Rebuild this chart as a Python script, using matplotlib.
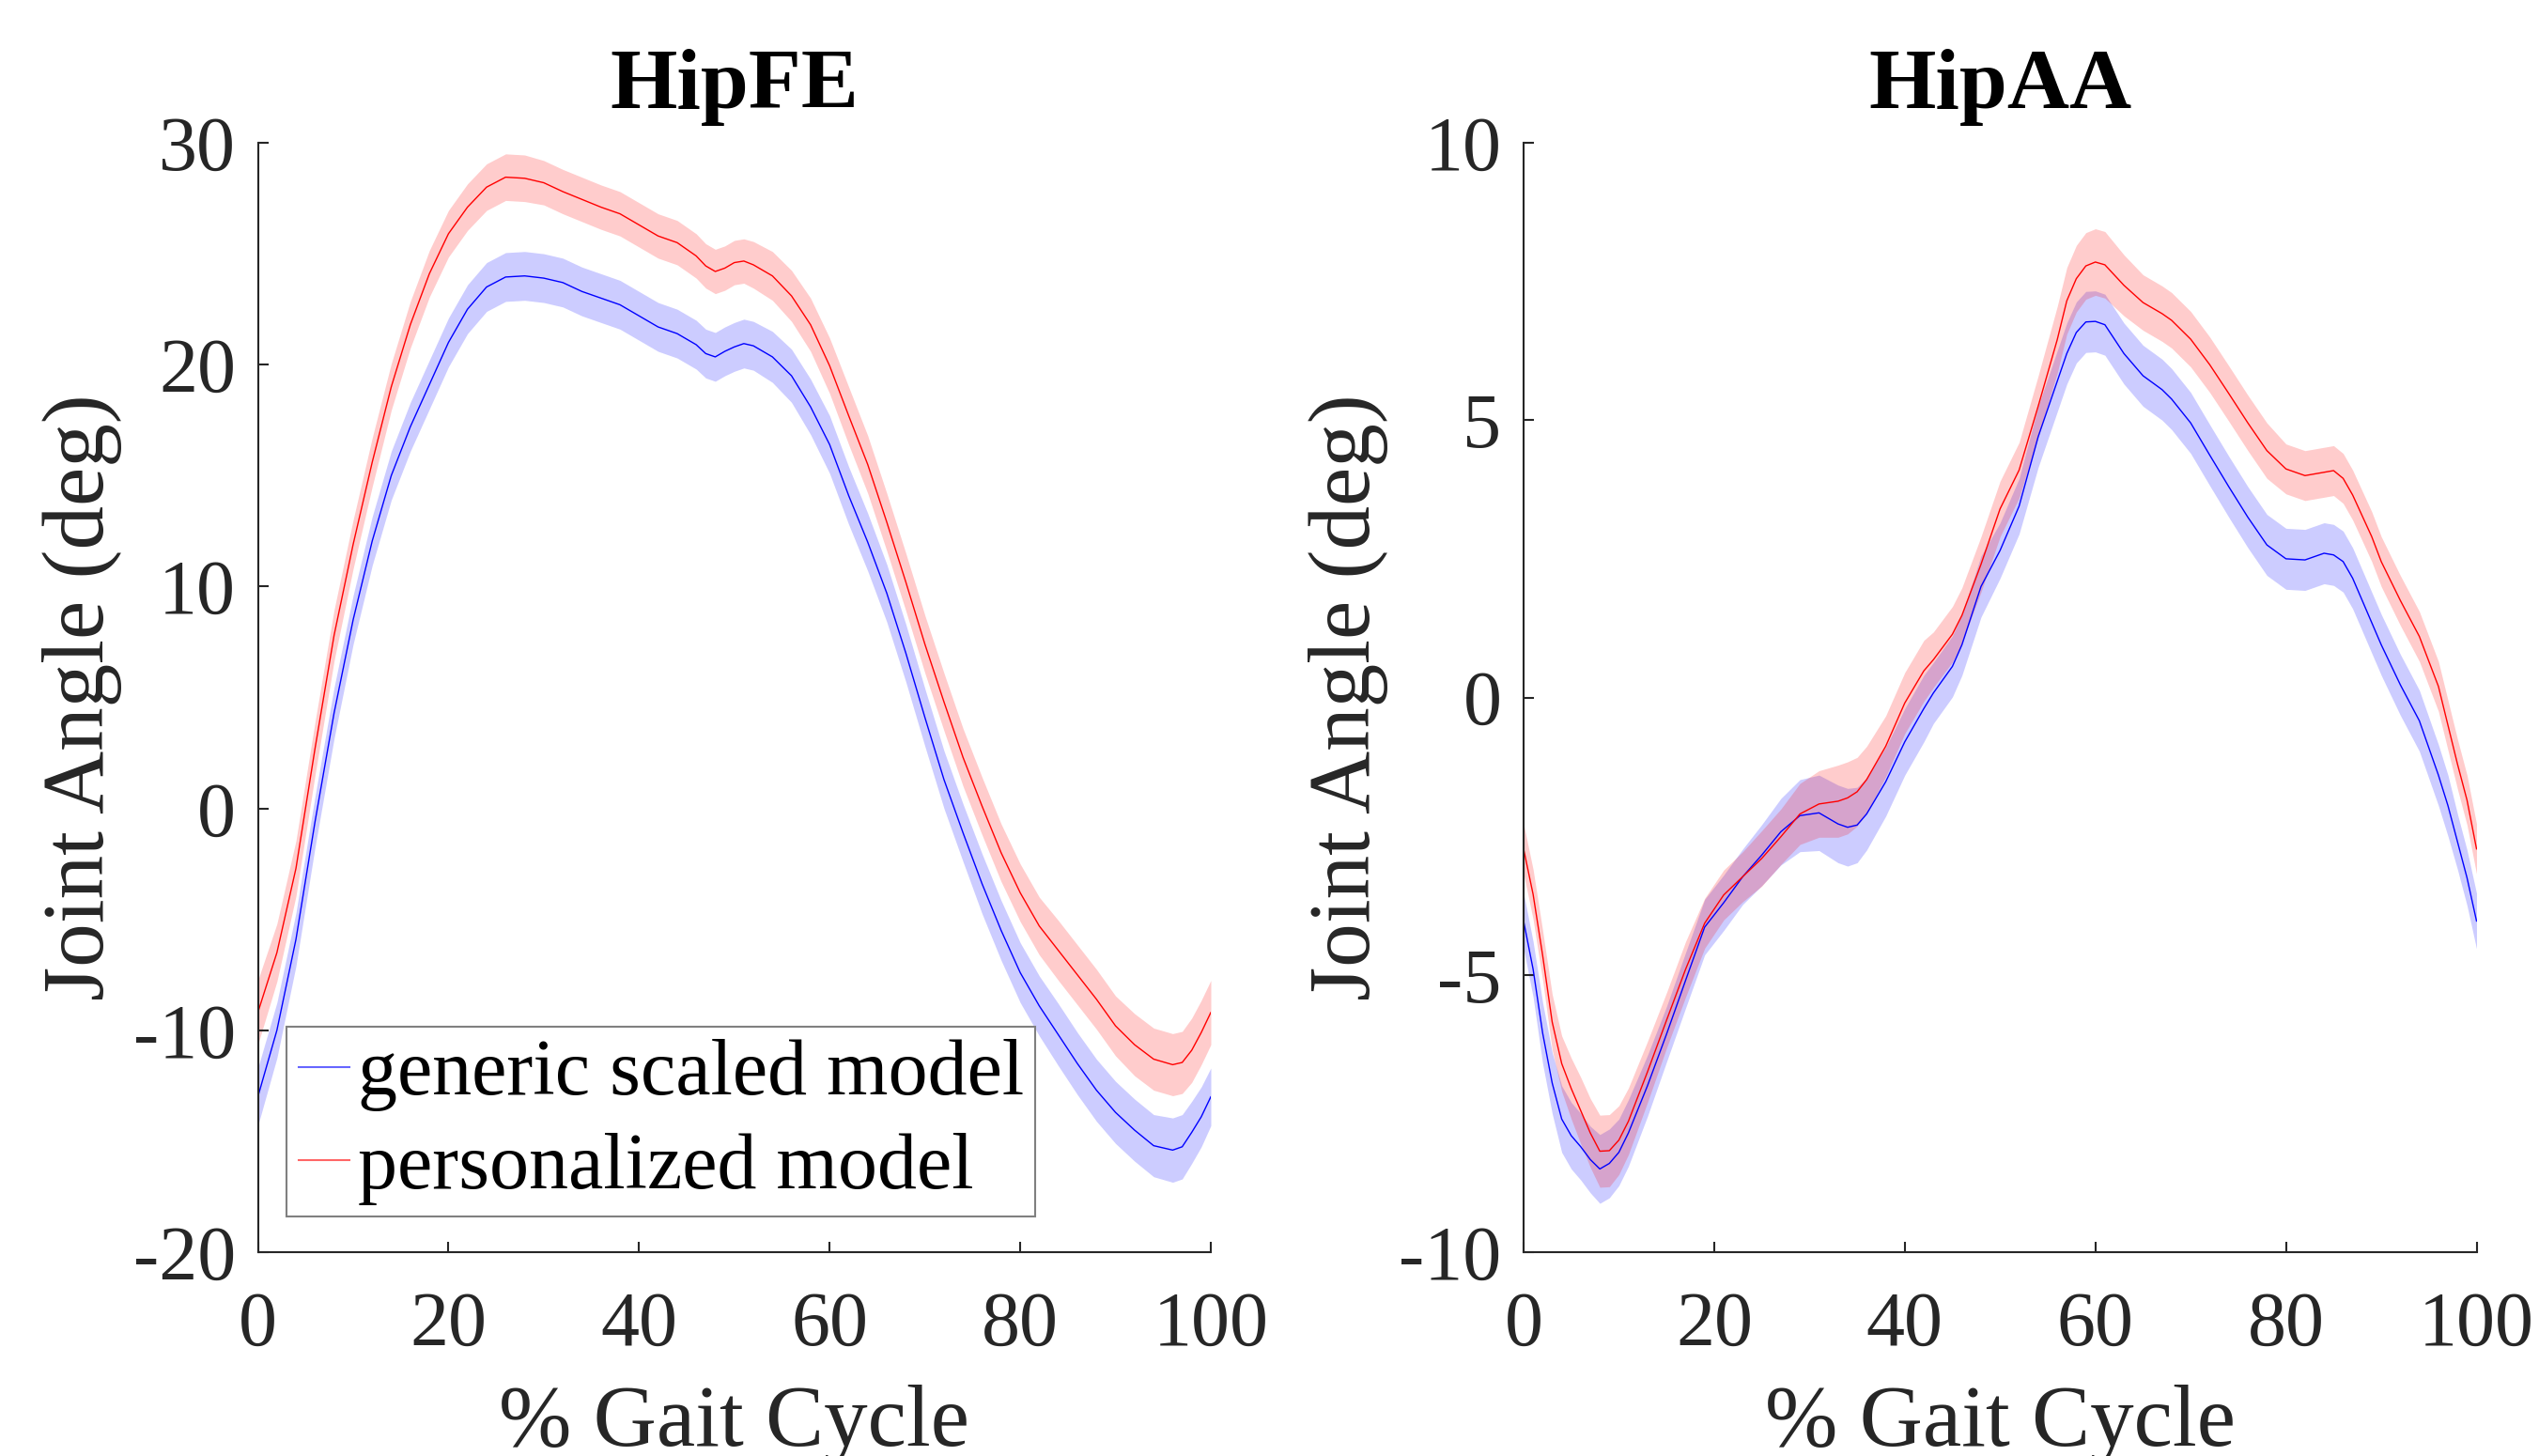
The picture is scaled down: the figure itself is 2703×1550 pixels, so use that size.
#!/usr/bin/env python3
# coding=utf-8

import matplotlib
matplotlib.use('Agg')
import matplotlib.pyplot as plt
import numpy as np

plt.rcParams['font.family'] = ['Liberation Serif', 'DejaVu Serif']
plt.rcParams['axes.unicode_minus'] = False

# HipFE (flexion / extension)
x_fe = [0, 2, 4, 6, 8, 10, 12, 14, 16, 18, 20, 22, 24, 26, 28, 30, 32, 34, 36, 38, 40, 42, 44, 46,
        47, 48, 49, 50, 51, 52, 54, 56, 58, 60, 62, 64, 66, 68, 70, 72, 74, 76, 78, 80, 82, 84,
        86, 88, 90, 92, 94, 96, 97, 98, 99, 100]
fe_generic = [-13.0, -10.0, -5.9, -0.6, 4.3, 8.5, 12.05, 15.0, 17.2, 19.1,
              21.0, 22.5, 23.5, 23.95, 24.0, 23.9, 23.7, 23.3, 23.0, 22.7,
              22.2, 21.7, 21.4, 20.9, 20.5, 20.35, 20.6, 20.8, 20.95, 20.85,
              20.35, 19.5, 18.1, 16.4, 14.1, 12.0, 9.7, 7.0, 4.1, 1.3,
              -1.1, -3.4, -5.5, -7.4, -8.9, -10.2, -11.5, -12.7, -13.7, -14.5,
              -15.2, -15.4, -15.25, -14.6, -13.9, -13.0]
fe_generic_sd = [1.3, 1.25, 1.2, 1.15, 1.15, 1.1, 1.1, 1.1, 1.1, 1.1,
                 1.1, 1.1, 1.1, 1.1, 1.1, 1.1, 1.1, 1.1, 1.1, 1.1,
                 1.1, 1.1, 1.1, 1.1, 1.1, 1.1, 1.1, 1.1, 1.1, 1.1,
                 1.15, 1.2, 1.25, 1.3, 1.3, 1.3, 1.3, 1.3, 1.3, 1.3,
                 1.3, 1.35, 1.35, 1.35, 1.35, 1.4, 1.4, 1.4, 1.4, 1.4,
                 1.4, 1.45, 1.45, 1.4, 1.35, 1.3]
fe_personal = [-9.2, -6.5, -2.7, 2.7, 7.8, 11.9, 15.6, 19.0, 21.8, 24.1,
               25.9, 27.1, 28.0, 28.45, 28.4, 28.2, 27.8, 27.45, 27.1, 26.8,
               26.3, 25.8, 25.5, 24.9, 24.45, 24.2, 24.35, 24.6, 24.67, 24.5,
               24.0, 23.1, 21.8, 19.95, 17.7, 15.5, 12.9, 10.2, 7.4, 4.8,
               2.3, 0.1, -2.0, -3.8, -5.3, -6.4, -7.5, -8.6, -9.8, -10.65,
               -11.3, -11.55, -11.45, -10.9, -10.1, -9.2]
fe_personal_sd = [1.45, 1.3, 1.25, 1.2, 1.15, 1.1, 1.1, 1.05, 1.05, 1.05,
                  1.05, 1.05, 1.05, 1.05, 1.05, 1.0, 1.0, 1.0, 1.0, 1.0,
                  1.0, 1.0, 1.0, 1.0, 1.0, 1.0, 1.0, 1.0, 1.0, 1.05,
                  1.1, 1.15, 1.2, 1.25, 1.3, 1.3, 1.3, 1.3, 1.3, 1.3,
                  1.3, 1.3, 1.3, 1.3, 1.3, 1.35, 1.35, 1.35, 1.35, 1.4,
                  1.4, 1.4, 1.4, 1.45, 1.45, 1.45]

# HipAA (adduction / abduction)
x_aa = [0, 1, 2, 3, 4, 5, 6, 7, 8, 9, 10, 11, 13, 15, 17, 19, 21, 23, 25, 27, 29, 31, 33,
        34, 35, 36, 38, 40, 42, 43, 45, 46, 48, 50, 52, 54, 56, 57, 58, 59, 60, 61, 63, 65,
        67, 68, 70, 72, 74, 76, 78, 80, 82, 84, 85, 86, 87, 89, 90, 92, 94, 96, 97, 98, 99, 100]
aa_generic = [-4.03, -4.9, -6.05, -6.95, -7.6, -7.9, -8.1, -8.33, -8.5, -8.4, -8.2, -7.85,
              -7.0, -6.07, -5.1, -4.14, -3.7, -3.23, -2.84, -2.42, -2.13, -2.08, -2.28,
              -2.34, -2.3, -2.1,
              -1.52, -0.8, -0.2,
              0.08, 0.56, 0.95, 2.0,
              2.65, 3.45, 4.7, 5.7,
              6.2, 6.58, 6.77, 6.78, 6.72,
              6.2, 5.8, 5.55, 5.38,
              4.95, 4.37, 3.8, 3.25, 2.75, 2.5, 2.48, 2.6,
              2.57, 2.45, 2.15, 1.35, 0.95,
              0.23, -0.42, -1.4, -1.95, -2.6, -3.25, -4.03]
aa_generic_sd = [0.5, 0.5, 0.55, 0.55, 0.6, 0.6, 0.6, 0.6, 0.62, 0.62,
                 0.6, 0.6, 0.55, 0.5, 0.5, 0.5, 0.5, 0.5, 0.55, 0.6,
                 0.65, 0.68, 0.7, 0.7, 0.68, 0.65, 0.62, 0.6, 0.6, 0.55,
                 0.55, 0.55, 0.55, 0.5, 0.5, 0.55, 0.55, 0.55, 0.55, 0.55,
                 0.55, 0.55, 0.55, 0.55, 0.55, 0.55, 0.55, 0.55, 0.55, 0.55,
                 0.55, 0.55, 0.55, 0.55, 0.55, 0.55, 0.55, 0.55, 0.55, 0.55,
                 0.55, 0.55, 0.55, 0.5, 0.5, 0.5]
aa_personal = [-2.73, -3.55, -4.65, -5.85, -6.6, -7.05, -7.45, -7.85, -8.18, -8.17, -7.98, -7.64,
               -6.75, -5.82, -4.9, -4.07, -3.56, -3.23, -2.9, -2.51, -2.1, -1.92, -1.87,
               -1.81, -1.7, -1.48,
               -0.88, -0.1, 0.48,
               0.68, 1.14, 1.48, 2.4,
               3.4, 4.1, 5.25, 6.45,
               7.15, 7.55, 7.78, 7.85, 7.8,
               7.43, 7.12, 6.92, 6.8,
               6.46, 6.0, 5.48, 4.95, 4.45, 4.12, 4.0, 4.06,
               4.09, 3.95, 3.65, 2.9, 2.45,
               1.75, 1.1, 0.2, -0.5, -1.2, -1.85, -2.73]
aa_personal_sd = [0.45, 0.45, 0.45, 0.5, 0.5, 0.55, 0.6, 0.62, 0.65, 0.65,
                  0.62, 0.6, 0.55, 0.5, 0.5, 0.45, 0.45, 0.45, 0.5, 0.5,
                  0.55, 0.6, 0.65, 0.65, 0.62, 0.6, 0.55, 0.55, 0.55, 0.5,
                  0.5, 0.5, 0.5, 0.5, 0.5, 0.55, 0.6, 0.6, 0.6, 0.6,
                  0.6, 0.6, 0.55, 0.5, 0.5, 0.5, 0.5, 0.5, 0.5, 0.5,
                  0.5, 0.45, 0.45, 0.45, 0.45, 0.45, 0.45, 0.45, 0.45, 0.45,
                  0.45, 0.45, 0.45, 0.45, 0.45, 0.45]

titles = ['HipFE', 'HipAA']
labels = ['generic scaled model', 'personalized model']
ylims = [(-20, 30), (-10, 10)]
yticks = [[-20, -10, 0, 10, 20, 30], [-10, -5, 0, 5, 10]]
xticks = [0, 20, 40, 60, 80, 100]

axis_color = '#262626'
W, H = 2703, 1550

fig = plt.figure(figsize=(W / 100, H / 100), dpi=100)
ax_fe = fig.add_axes([274.5 / W, 217 / H, 1014.5 / W, 1181 / H])
ax_aa = fig.add_axes([1622 / W, 217 / H, 1014.5 / W, 1181 / H])

panels = [
    (ax_fe, x_fe, fe_generic, fe_generic_sd, fe_personal, fe_personal_sd),
    (ax_aa, x_aa, aa_generic, aa_generic_sd, aa_personal, aa_personal_sd),
]

for i, (ax, x, gen, gen_sd, per, per_sd) in enumerate(panels):
    x = np.array(x)
    gen, gen_sd = np.array(gen), np.array(gen_sd)
    per, per_sd = np.array(per), np.array(per_sd)

    ax.fill_between(x, gen - gen_sd, gen + gen_sd, color='blue', alpha=0.2, linewidth=0)
    ax.fill_between(x, per - per_sd, per + per_sd, color='red', alpha=0.2, linewidth=0)
    ax.plot(x, gen, color='blue', linewidth=1.0, label=labels[0])
    ax.plot(x, per, color='red', linewidth=1.0, label=labels[1])

    ax.set_xlim(0, 100)
    ax.set_ylim(*ylims[i])
    ax.set_xticks(xticks)
    ax.set_yticks(yticks[i])

    for side in ['top', 'right']:
        ax.spines[side].set_visible(False)
    for side in ['left', 'bottom']:
        ax.spines[side].set_linewidth(1.5)
        ax.spines[side].set_color(axis_color)

    ax.tick_params(direction='in', length=8, width=1.5, color=axis_color,
                   labelcolor=axis_color, labelsize=59)
    ax.tick_params(axis='x', pad=30)
    ax.tick_params(axis='y', pad=17)

    ax.set_title(titles[i], fontsize=66, fontweight='bold', pad=27)
    ax.set_xlabel('% Gait Cycle', fontsize=67, color=axis_color)
    ax.set_ylabel('Joint Angle (deg)', fontsize=67, color=axis_color)
    ax.xaxis.set_label_coords(0.5, -0.119)
    ax.yaxis.set_label_coords(-0.142, 0.5)

leg = ax_fe.legend(loc='lower left', bbox_to_anchor=(0.03, 0.032), borderaxespad=0,
                   fontsize=60.5, frameon=True, fancybox=False, framealpha=1,
                   edgecolor='#808080', handlelength=0.65, handletextpad=0.1,
                   borderpad=0.15, labelspacing=0.27)
leg.get_frame().set_linewidth(1.5)
for line in leg.get_lines():
    line.set_alpha(0.6)
    line.set_linewidth(1.5)

fig.savefig('out.png', dpi=100)
